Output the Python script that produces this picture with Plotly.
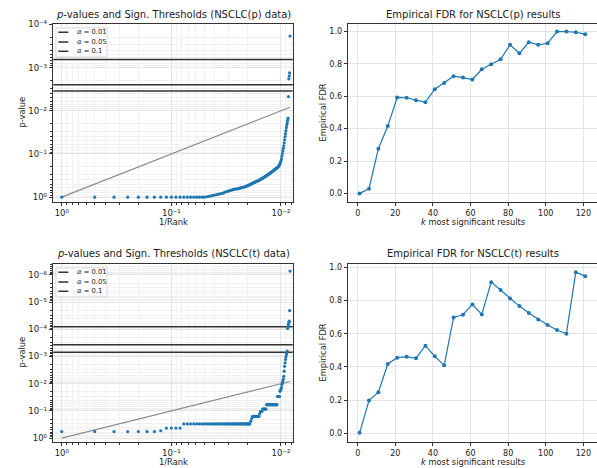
import plotly.graph_objects as go

# ---------------- data ----------------
ranks = list(range(1, 122))

# sorted p-values per rank, NSCLC(p)
pvals_p = [
    1.0, 1.0, 1.0, 1.0, 1.0, 1.0, 1.0, 1.0, 1.0, 1.0,
    1.0, 1.0, 1.0, 1.0, 1.0, 1.0, 1.0, 1.0, 1.0, 1.0,
    0.977, 0.955, 0.933, 0.912, 0.891, 0.871, 0.851, 0.832, 0.813, 0.794,
    0.759, 0.741, 0.724, 0.708, 0.692, 0.676, 0.661, 0.653, 0.646, 0.638,
    0.631, 0.617, 0.610, 0.603, 0.589, 0.582, 0.575, 0.562, 0.550, 0.537,
    0.525, 0.513, 0.501, 0.490, 0.479, 0.468, 0.457, 0.447, 0.437, 0.427,
    0.422, 0.417, 0.407, 0.398, 0.389, 0.380, 0.372, 0.363, 0.355, 0.347,
    0.339, 0.331, 0.324, 0.316, 0.309, 0.302, 0.295, 0.288, 0.282, 0.275,
    0.269, 0.263, 0.257, 0.251, 0.245, 0.240, 0.234, 0.229, 0.224, 0.219,
    0.214, 0.209, 0.204, 0.200, 0.195, 0.186, 0.178, 0.170, 0.158, 0.145,
    0.129, 0.112, 0.0977, 0.0851, 0.0741, 0.0646, 0.0550, 0.0468, 0.0398, 0.0339,
    0.0288, 0.0245, 0.0214, 0.0191, 0.0166, 0.0148, 0.00468, 0.00182, 0.00155, 0.00132,
    0.000186,
]

# sorted p-values per rank, NSCLC(t)
pvals_t = [
    0.575, 0.575, 0.575, 0.575, 0.575, 0.575, 0.575, 0.537, 0.427, 0.427,
    0.427, 0.427, 0.302, 0.302, 0.302, 0.302, 0.302, 0.302, 0.302, 0.302,
    0.302, 0.302, 0.302, 0.302, 0.302, 0.302, 0.302, 0.302, 0.302, 0.302,
    0.302, 0.302, 0.302, 0.302, 0.302, 0.302, 0.302, 0.302, 0.302, 0.302,
    0.302, 0.302, 0.302, 0.302, 0.302, 0.302, 0.302, 0.302, 0.302, 0.302,
    0.302, 0.302, 0.240, 0.191, 0.158, 0.158, 0.158, 0.158, 0.158, 0.158,
    0.158, 0.158, 0.158, 0.126, 0.105, 0.105, 0.105, 0.0851, 0.0851, 0.0851,
    0.0851, 0.0851, 0.0851, 0.0589, 0.0589, 0.0589, 0.0589, 0.0589, 0.0589, 0.0589,
    0.0589, 0.0589, 0.0589, 0.0589, 0.0589, 0.0589, 0.0589, 0.0589, 0.0589, 0.0589,
    0.0589, 0.0589, 0.0295, 0.0295, 0.0295, 0.0295, 0.0295, 0.0191, 0.0174, 0.0158,
    0.0138, 0.0107, 0.00912, 0.00794, 0.00692, 0.00537, 0.00347, 0.00229, 0.00170, 0.00129,
    0.00105, 0.000851, 0.000724, 0.000631, 9.33e-5, 7.94e-5, 6.61e-5, 5.62e-5, 5.01e-5, 2.04e-5,
    7.24e-7,
]

alphas = ["0.01", "0.05", "0.1"]
thresholds_p = [6.5e-4, 2.5e-3, 3.5e-3]
thresholds_t = [8.0e-5, 3.7e-4, 6.9e-4]

k_values = [1, 6, 11, 16, 21, 26, 31, 36, 41, 46, 51, 56, 61, 66, 71, 76, 81, 86,
            91, 96, 101, 106, 111, 116, 121]
fdr_p = [0.0, 0.029, 0.276, 0.416, 0.593, 0.591, 0.576, 0.564, 0.644, 0.683,
         0.724, 0.716, 0.704, 0.767, 0.798, 0.829, 0.918, 0.866, 0.934, 0.918,
         0.928, 1.0, 1.0, 0.996, 0.984]
fdr_t = [0.004, 0.198, 0.248, 0.418, 0.456, 0.462, 0.452, 0.528, 0.464, 0.41,
         0.698, 0.714, 0.776, 0.716, 0.91, 0.862, 0.812, 0.766, 0.724, 0.686,
         0.652, 0.622, 0.60, 0.97, 0.946]

# ---------------- styling ----------------
W, H = 597, 468
BLUE = "#1f77b4"
TXT = "#222222"
FONT = "DejaVu Sans"
FRAME = "#333333"

inv_rank = [1.0 / r for r in ranks]

fig = go.Figure()


def px(x):
    return x / W


def py(y):
    return 1 - y / H


# plot areas in pixels (left, right, top, bottom)
LX = (53.3, 292.7)
RX = (348.3, 596.5)
TOP = (23.5, 201.5)
BOT = (263.5, 441.5)


def pval_panel(xa, ya, pvals, thresholds):
    for a, thr in zip(alphas, thresholds):
        fig.add_trace(go.Scatter(
            x=[1.5, 0.005], y=[thr, thr], mode="lines",
            line=dict(color="#333333", width=1.5),
            name="α = " + a, showlegend=False, xaxis=xa, yaxis=ya,
            hoverinfo="skip"))
    fig.add_trace(go.Scatter(
        x=[inv_rank[0], inv_rank[-1]], y=[inv_rank[0], inv_rank[-1]],
        mode="lines", line=dict(color="#8c8c8c", width=1.2),
        showlegend=False, xaxis=xa, yaxis=ya))
    fig.add_trace(go.Scatter(
        x=inv_rank, y=pvals, mode="markers",
        marker=dict(color=BLUE, size=3.2, line=dict(width=0)),
        showlegend=False, xaxis=xa, yaxis=ya))


def fdr_panel(xa, ya, fdr):
    fig.add_trace(go.Scatter(
        x=k_values, y=fdr, mode="lines+markers",
        line=dict(color=BLUE, width=1.2),
        marker=dict(color=BLUE, size=4),
        showlegend=False, xaxis=xa, yaxis=ya))


pval_panel("x", "y", pvals_p, thresholds_p)
fdr_panel("x2", "y2", fdr_p)
pval_panel("x3", "y3", pvals_t, thresholds_t)
fdr_panel("x4", "y4", fdr_t)

common = dict(
    showline=True, linecolor=FRAME, linewidth=1.2, mirror=True,
    ticks="outside", ticklen=3.5, tickwidth=0.8, tickcolor=FRAME,
    tickfont=dict(size=8, color=TXT, family=FONT),
    showgrid=True, gridcolor="#e4e4e4", gridwidth=0.8,
    zeroline=False, automargin=False,
)


def minor_log(e_lo, e_hi):
    vals = []
    for e in range(e_lo, e_hi):
        for m in range(2, 10):
            vals.append(m * 10.0 ** e)
    return dict(tickmode="array", tickvals=vals, ticks="outside", ticklen=2,
                tickwidth=0.6, tickcolor=FRAME, showgrid=True,
                gridcolor="#f1f1f1", gridwidth=0.6)


SUP = str.maketrans("-0123456789", "⁻⁰¹²³⁴⁵⁶⁷⁸⁹")


def pow_labels(exps):
    vals = [10.0 ** e for e in exps]
    text = ["10" + str(e).translate(SUP) for e in exps]
    return vals, text


xv, xt = pow_labels([0, -1, -2])
yv_top, yt_top = pow_labels([0, -1, -2, -3, -4])
yv_bot, yt_bot = pow_labels([0, -1, -2, -3, -4, -5, -6])

log_x = dict(common, type="log", range=[0.077, -2.107], tickmode="array",
             tickvals=xv, ticktext=xt, minor=minor_log(-3, 1))
log_tickfont = dict(size=8.5, color=TXT, family=FONT)

fig.update_layout(
    width=W, height=H,
    margin=dict(l=0, r=0, t=0, b=0),
    paper_bgcolor="white", plot_bgcolor="white",
    font=dict(family=FONT, color=TXT),
    showlegend=False,
    xaxis=dict(log_x, tickfont=log_tickfont, domain=[px(LX[0]), px(LX[1])], anchor="y"),
    yaxis=dict(common, type="log", range=[0.1, -4.02], tickmode="array",
               tickvals=yv_top, ticktext=yt_top, minor=minor_log(-5, 1),
               tickfont=log_tickfont,
               domain=[py(TOP[1]), py(TOP[0])], anchor="x"),
    xaxis2=dict(common, range=[-5, 127], tickmode="linear", tick0=0, dtick=20,
                domain=[px(RX[0]), px(RX[1])], anchor="y2"),
    yaxis2=dict(common, range=[-0.05, 1.05], tickmode="linear", tick0=0, dtick=0.2,
                tickformat=".1f", domain=[py(TOP[1]), py(TOP[0])], anchor="x2"),
    xaxis3=dict(log_x, tickfont=log_tickfont, domain=[px(LX[0]), px(LX[1])], anchor="y3"),
    yaxis3=dict(common, type="log", range=[0.125, -6.42], tickmode="array",
                tickvals=yv_bot, ticktext=yt_bot, minor=minor_log(-7, 1),
                tickfont=log_tickfont,
                domain=[py(BOT[1]), py(BOT[0])], anchor="x3"),
    xaxis4=dict(common, range=[-5, 127], tickmode="linear", tick0=0, dtick=20,
                domain=[px(RX[0]), px(RX[1])], anchor="y4"),
    yaxis4=dict(common, range=[-0.048, 1.022], tickmode="linear", tick0=0, dtick=0.2,
                tickformat=".1f", domain=[py(BOT[1]), py(BOT[0])], anchor="x4"),
)

annotations = []
shapes = []


def text(x, y, s, size, angle=0, xanchor="center", yanchor="middle"):
    annotations.append(dict(
        x=px(x), y=py(y), xref="paper", yref="paper", text=s, showarrow=False,
        font=dict(size=size, color=TXT, family=FONT), textangle=angle,
        xanchor=xanchor, yanchor=yanchor, borderpad=0))


lx_mid = (LX[0] + LX[1]) / 2
rx_mid = (RX[0] + RX[1]) / 2
for (top, bot), tag in [(TOP, "p"), (BOT, "t")]:
    ymid = (top + bot) / 2
    text(lx_mid, top - 9.5, "<i>p</i>-values and Sign. Thresholds (NSCLC(%s) data)" % tag, 10)
    text(rx_mid + 0.5, top - 9.5, "Empirical FDR for NSCLC(%s) results" % tag, 10)
    text(lx_mid, bot + 14.5, "1/Rank", 8.3, yanchor="top")
    text(rx_mid + 0.5, bot + 14.5, "<i>k</i> most significant results", 8.3, yanchor="top")
    text(21, ymid, "p-value", 8.3, angle=-90)
    text(322, ymid, "Empirical FDR", 8.3, angle=-90)

# in-axes legend box for the threshold lines
for xa, ya in [("x", "y"), ("x3", "y3")]:
    xr, yr = xa + " domain", ya + " domain"
    shapes.append(dict(type="rect", xref=xr, yref=yr, x0=0.011, x1=0.224,
                       y0=0.812, y1=0.975, fillcolor="rgba(255,255,255,0.85)",
                       line=dict(color="#cccccc", width=0.8), layer="above"))
    for i, (a, yy) in enumerate(zip(alphas, [0.951, 0.896, 0.844])):
        shapes.append(dict(type="line", xref=xr, yref=yr, x0=0.021, x1=0.063,
                           y0=yy, y1=yy, line=dict(color="#333333", width=1.5),
                           layer="above"))
        annotations.append(dict(
            x=0.095, y=yy, xref=xr, yref=yr, text="<i>α</i> = " + a,
            showarrow=False, xanchor="left", yanchor="middle", borderpad=0,
            font=dict(size=6.8, color=TXT, family=FONT)))

fig.update_layout(annotations=annotations, shapes=shapes)

fig.write_html("out.html")
